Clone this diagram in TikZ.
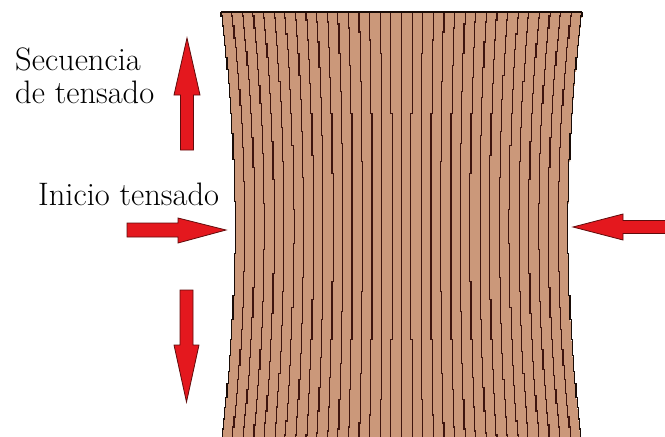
\documentclass[tikz,border=0pt]{standalone}
\usepackage{fontspec}
\definecolor{woodfill}{RGB}{203,152,122}
\definecolor{fibredark}{RGB}{62,20,14}
\definecolor{edgedark}{RGB}{25,12,8}
\definecolor{arrowred}{RGB}{228,24,30}
\definecolor{arrowdark}{RGB}{95,12,12}
% horizontal position of a fibre that starts at x=#1, at height y=#2
% (pinched towards the centre line, quantised into small steps)
\newcommand\fibx[2]{#1+1.2*round(14*(401.5-#1)/180.5*(1-((#2-228)/216)^2)/1.2)}
\begin{document}
\begin{tikzpicture}[x=1pt,y=-1pt,
  txt/.style={anchor=base west, inner sep=0pt, font=\rmfamily\fontsize{32.5}{36}\selectfont, text=black},
  redarrow/.style={fill=arrowred, draw=arrowdark, line width=0.8pt, line join=miter},
  fibre/.style={draw=fibredark, line width=1.15pt},
  edgeline/.style={draw=edgedark, line width=1.1pt},
]
\useasboundingbox (0,0) rectangle (665,437);

% panel body
\fill[woodfill]
  plot[variable=\t, domain=12:437, samples=214, const plot] ({\fibx{221}{\t}},\t)
  -- plot[variable=\t, domain=437:12, samples=214, const plot] ({\fibx{582}{\t}},\t)
  -- cycle;

% inner fibres
\foreach \k in {1,...,33}{
  \pgfmathsetmacro\xo{221+\k*361/34}
  \draw[fibre] plot[variable=\t, domain=12:437, samples=214, const plot] ({\fibx{\xo}{\t}},\t);
}

% outer edges and top border
\draw[edgeline] plot[variable=\t, domain=12:437, samples=214, const plot] ({\fibx{221}{\t}},\t);
\draw[edgeline] plot[variable=\t, domain=12:437, samples=214, const plot] ({\fibx{582}{\t}},\t);
\draw[edgeline] (221,12) -- (582,12);

% labels
\node[txt] (seq) at (15,70) {Secuencia};
\node[txt] (seqb) at (15,103) {de tensado};
\node[txt] (ini) at (38,205) {Inicio tensado};

% upward arrow
\draw[redarrow] (187,38) -- (200,95) -- (193.5,95) -- (193.5,150) -- (180.5,150)
  -- (180.5,95) -- (174,95) -- cycle;
% downward arrow
\draw[redarrow] (186.5,402) -- (199,345) -- (193,345) -- (193,290) -- (180,290)
  -- (180,345) -- (174,345) -- cycle;
% arrow pushing from the left
\draw[redarrow] (226,230) -- (178,243) -- (178,237) -- (127,237) -- (127,223)
  -- (178,223) -- (178,218) -- cycle;
% arrow pushing from the right
\draw[redarrow] (573,227) -- (623,214) -- (623,220.5) -- (668,220.5) -- (668,233.5)
  -- (623,233.5) -- (623,240) -- cycle;
\end{tikzpicture}
\end{document}
